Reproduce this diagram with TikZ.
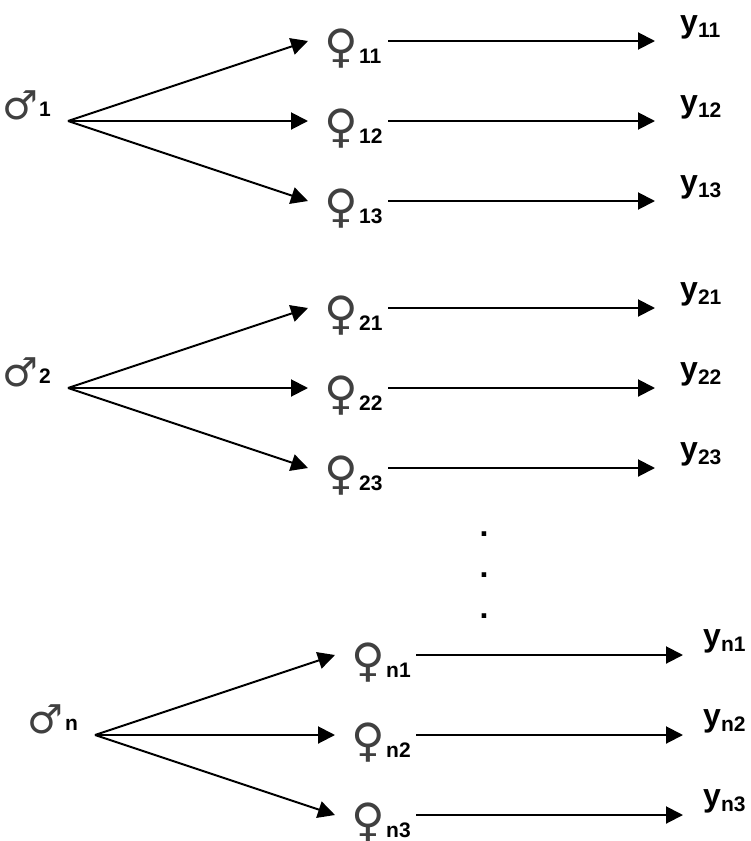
\documentclass[tikz,border=0pt]{standalone}
\usepackage{fontspec}
\setmainfont{Liberation Sans}
\newfontfamily\symfont{DejaVu Sans}
\usetikzlibrary{arrows.meta}
\begin{document}
\begin{tikzpicture}[x=1pt,y=-1pt,
  arr/.style={line width=2pt,-{Triangle[length=17pt,width=17pt]}},
  fsym/.style={font=\symfont\fontsize{46}{46}\selectfont,text=black!75,inner sep=0pt,anchor=center},
  msym/.style={font=\symfont\fontsize{40}{40}\selectfont,text=black!75,inner sep=0pt,anchor=center},
  sub/.style={font=\bfseries\fontsize{21}{21}\selectfont,inner sep=0pt,anchor=base west},
  ylab/.style={font=\bfseries\fontsize{32}{32}\selectfont,inner sep=0pt,anchor=base west},
  dot/.style={font=\bfseries\fontsize{32}{32}\selectfont,inner sep=0pt,anchor=center}]
\useasboundingbox (0,0) rectangle (750,841);
% ---------- group 1 ----------
\node[msym] (m1) at (20,105) {♂};
\node[sub] (m1s) at (39,116) {1};
\coordinate (o1) at (68,121);
\coordinate (t11) at (308,41);
\coordinate (t12) at (308,121);
\coordinate (t13) at (308,201);
\draw[arr] (o1) -- (t11);
\draw[arr] (o1) -- (t12);
\draw[arr] (o1) -- (t13);
\node[fsym] (f11) at (341,49) {♀};
\node[sub] (f11s) at (359,63) {11};
\node[fsym] (f12) at (341,129) {♀};
\node[sub] (f12s) at (359,143) {12};
\node[fsym] (f13) at (341,209) {♀};
\node[sub] (f13s) at (359,223) {13};
\coordinate (l11) at (388,41); \coordinate (e11) at (655,41);
\coordinate (l12) at (388,121); \coordinate (e12) at (655,121);
\coordinate (l13) at (388,201); \coordinate (e13) at (655,201);
\draw[arr] (l11) -- (e11);
\draw[arr] (l12) -- (e12);
\draw[arr] (l13) -- (e13);
\node[ylab] (y11) at (680,32) {y\raisebox{-5pt}{\fontsize{21}{21}\selectfont 11}};
\node[ylab] (y12) at (680,112) {y\raisebox{-5pt}{\fontsize{21}{21}\selectfont 12}};
\node[ylab] (y13) at (680,192) {y\raisebox{-5pt}{\fontsize{21}{21}\selectfont 13}};
% ---------- group 2 ----------
\node[msym] (m2) at (20,372) {♂};
\node[sub] (m2s) at (39,383) {2};
\coordinate (o2) at (68,388);
\coordinate (t21) at (308,308);
\coordinate (t22) at (308,388);
\coordinate (t23) at (308,468);
\draw[arr] (o2) -- (t21);
\draw[arr] (o2) -- (t22);
\draw[arr] (o2) -- (t23);
\node[fsym] (f21) at (341,316) {♀};
\node[sub] (f21s) at (359,330) {21};
\node[fsym] (f22) at (341,396) {♀};
\node[sub] (f22s) at (359,410) {22};
\node[fsym] (f23) at (341,476) {♀};
\node[sub] (f23s) at (359,490) {23};
\coordinate (l21) at (388,308); \coordinate (e21) at (655,308);
\coordinate (l22) at (388,388); \coordinate (e22) at (655,388);
\coordinate (l23) at (388,468); \coordinate (e23) at (655,468);
\draw[arr] (l21) -- (e21);
\draw[arr] (l22) -- (e22);
\draw[arr] (l23) -- (e23);
\node[ylab] (y21) at (680,299) {y\raisebox{-5pt}{\fontsize{21}{21}\selectfont 21}};
\node[ylab] (y22) at (680,379) {y\raisebox{-5pt}{\fontsize{21}{21}\selectfont 22}};
\node[ylab] (y23) at (680,459) {y\raisebox{-5pt}{\fontsize{21}{21}\selectfont 23}};
% ---------- dots ----------
\node[dot] (d1) at (484,534) {.};
\node[dot] (d2) at (484,575) {.};
\node[dot] (d3) at (484,616) {.};
% ---------- group n ----------
\node[msym] (mn) at (45,719) {♂};
\node[sub] (mns) at (65,730) {n};
\coordinate (on) at (95,735);
\coordinate (tn1) at (335,655);
\coordinate (tn2) at (335,735);
\coordinate (tn3) at (335,815);
\draw[arr] (on) -- (tn1);
\draw[arr] (on) -- (tn2);
\draw[arr] (on) -- (tn3);
\node[fsym] (fn1) at (368,663) {♀};
\node[sub] (fn1s) at (386,677) {n1};
\node[fsym] (fn2) at (368,743) {♀};
\node[sub] (fn2s) at (386,757) {n2};
\node[fsym] (fn3) at (368,823) {♀};
\node[sub] (fn3s) at (386,837) {n3};
\coordinate (ln1) at (416,655); \coordinate (en1) at (683,655);
\coordinate (ln2) at (416,735); \coordinate (en2) at (683,735);
\coordinate (ln3) at (416,815); \coordinate (en3) at (683,815);
\draw[arr] (ln1) -- (en1);
\draw[arr] (ln2) -- (en2);
\draw[arr] (ln3) -- (en3);
\node[ylab] (yn1) at (703,646) {y\raisebox{-5pt}{\fontsize{21}{21}\selectfont n1}};
\node[ylab] (yn2) at (703,726) {y\raisebox{-5pt}{\fontsize{21}{21}\selectfont n2}};
\node[ylab] (yn3) at (703,806) {y\raisebox{-5pt}{\fontsize{21}{21}\selectfont n3}};
\end{tikzpicture}
\end{document}
